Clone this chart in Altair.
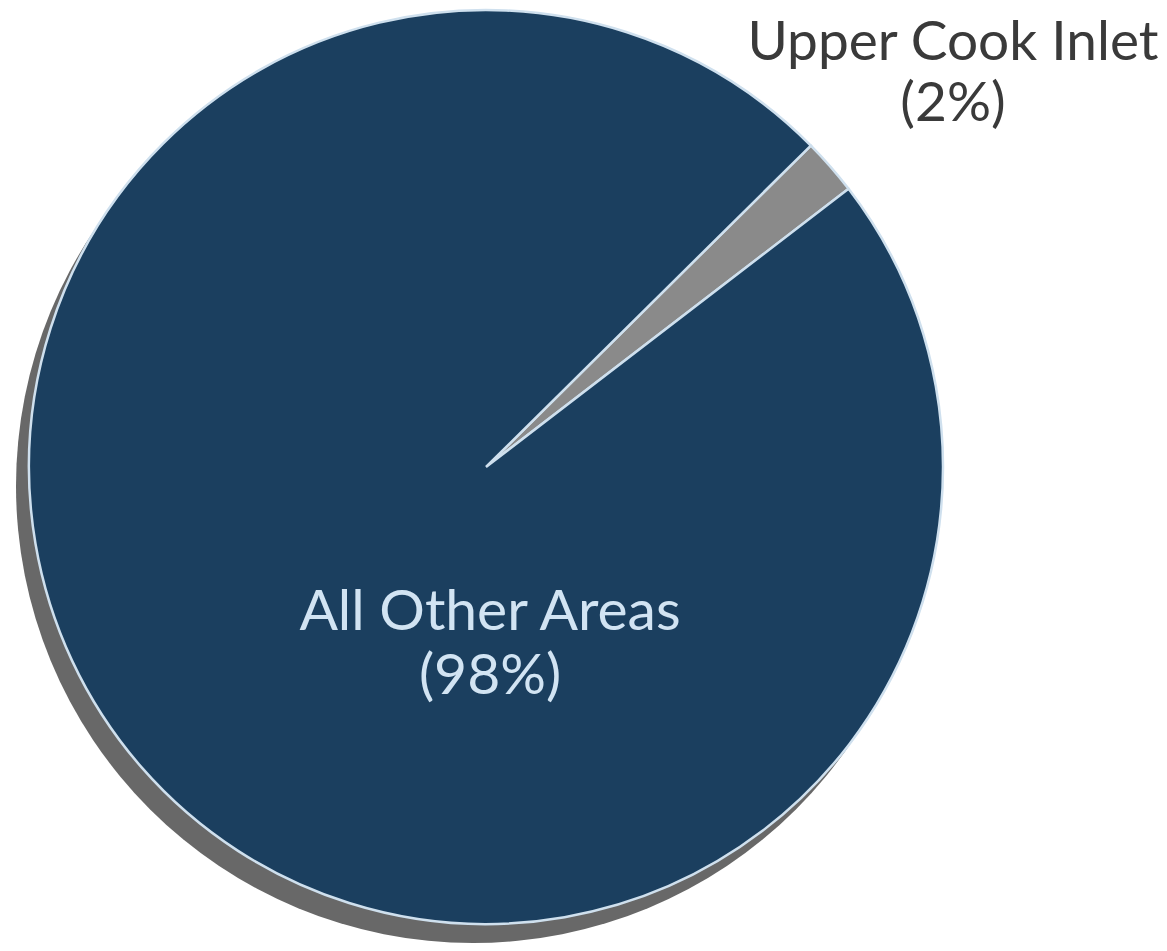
import math
import altair as alt
import pandas as pd

categories = ["Upper Cook Inlet", "All Other Areas"]
shares = [2, 98]
label_line1 = ["Upper Cook Inlet", "All Other Areas"]
label_line2 = ["(2%)", "(98%)"]
slice_colors = ["#8a8a8a", "#1b3f5f"]
label_colors = ["#3a3a3a", "#d2e4f3"]

W, H = 1167, 951
CX, CY, R = 486, 467, 457
start = math.radians(45.3)

df = pd.DataFrame({"area": categories, "share": shares, "order": [0, 1]})

shadow = alt.Chart(pd.DataFrame({"k": [0]})).mark_arc(
    theta=0, theta2=6.2832, color="#686868"
).encode(x=alt.value(CX - 13), y=alt.value(CY + 19), radius=alt.value(R))

pie = alt.Chart(df).mark_arc(stroke="#cfe0ee", strokeWidth=2.5).encode(
    theta=alt.Theta("share:Q", stack=True,
                    scale=alt.Scale(range=[start, start + 2 * math.pi])),
    order=alt.Order("order:Q"),
    color=alt.Color("area:N", scale=alt.Scale(domain=categories, range=slice_colors),
                    legend=None),
    x=alt.value(CX), y=alt.value(CY), radius=alt.value(R),
)

lab = pd.DataFrame({
    "text": [[label_line1[0], label_line2[0]], [label_line1[1], label_line2[1]]],
    "area": categories,
    "px": [953, 490],
    "py": [60, 630],
})

xs = alt.Scale(domain=[0, W], range=[0, W])
ys = alt.Scale(domain=[0, H], range=[0, H])


def text_layer(idx, size, color, lh):
    return alt.Chart(lab.iloc[[idx]]).mark_text(
        font="Lato", fontSize=size, align="center", baseline="alphabetic",
        lineHeight=lh, color=color,
    ).encode(
        text="text",
        x=alt.X("px:Q", scale=xs, axis=None),
        y=alt.Y("py:Q", scale=ys, axis=None),
    )


labels_out = text_layer(0, 55, label_colors[0], 61)
labels_in = text_layer(1, 57, label_colors[1], 64)

chart = alt.layer(shadow, pie, labels_out, labels_in).properties(
    width=W, height=H, padding=0, autosize=alt.AutoSizeParams(type="none"),
    background="white",
).configure_view(stroke=None)

chart.save("out.html", embed_options={"renderer": "svg", "actions": False})
